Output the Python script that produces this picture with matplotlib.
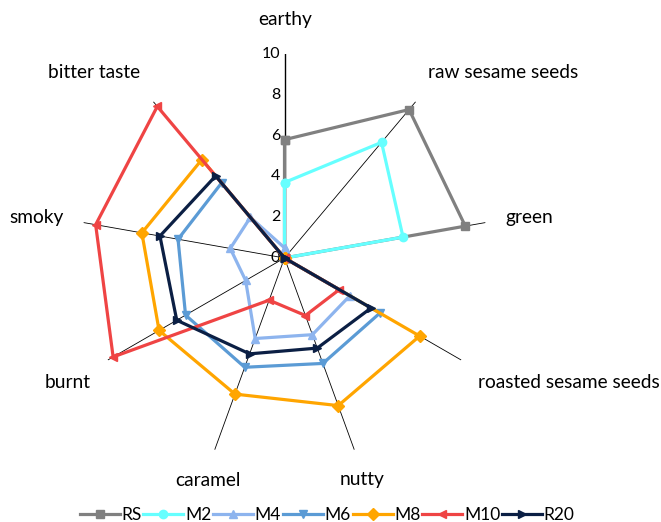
import numpy as np
import matplotlib
matplotlib.use('Agg')
from matplotlib import pyplot as plt

plt.rcParams['font.family'] = ['Lato', 'DejaVu Sans']

# Sensory attributes, clockwise from the top
attributes = ['earthy', 'raw sesame seeds', 'green', 'roasted sesame seeds',
              'nutty', 'caramel', 'burnt', 'smoky', 'bitter taste']

# Panel scores per sample (0-10)
RS = [5.8, 9.5, 9.0, 0.0, 0.0, 0.0, 0.0, 0.0, 0.0]
M2 = [3.7, 7.4, 5.9, 0.0, 0.0, 0.0, 0.0, 0.0, 0.0]
M4 = [0.5, 0.0, 0.0, 3.7, 4.0, 4.2, 2.2, 2.7, 2.6]
M6 = [0.0, 0.0, 0.0, 5.4, 5.5, 5.7, 5.6, 5.3, 4.8]
M8 = [0.0, 0.0, 0.0, 7.65, 7.7, 7.1, 7.1, 7.1, 6.3]
M10 = [0.0, 0.0, 0.0, 3.1, 3.0, 2.2, 9.7, 9.4, 9.7]
R20 = [0.0, 0.0, 0.0, 4.9, 4.7, 5.0, 6.1, 6.2, 5.25]

samples = ['RS', 'M2', 'M4', 'M6', 'M8', 'M10', 'R20']
series = [RS, M2, M4, M6, M8, M10, R20]
colors = ['#808080', '#66FFFF', '#8DB4EE', '#5B9BD5', '#FFA500', '#EF4444', '#0B1F44']
markers = ['s', 'o', '^', 'v', 'D', '<', '>']

r_ticks = [0, 2, 4, 6, 8, 10]

W, H = 661, 522
fig = plt.figure(figsize=(W / 100, H / 100), dpi=100)

# polar axes centred on the spoke origin
cx, cy, rad = 284.5, 258.0, 204.0
ax = fig.add_axes([(cx - rad) / W, 1 - (cy + rad) / H, 2 * rad / W, 2 * rad / H],
                  projection='polar')
ax.set_theta_zero_location('N')
ax.set_theta_direction(-1)
ax.set_ylim(0, 10)
ax.set_xticks([])
ax.set_yticks([])
ax.grid(False)
ax.spines['polar'].set_visible(False)
ax.patch.set_visible(False)

n = len(attributes)
theta = np.arange(n) * 2 * np.pi / n

# spokes
for i, t in enumerate(theta):
    ax.plot([t, t], [0, 10], color='black', lw=1.0 if i == 0 else 0.6, zorder=1)

# value labels on the first spoke
for v in r_ticks:
    ax.annotate(str(v), (0, v), xytext=(-3, 0), textcoords='offset points',
                ha='right', va='center', fontsize=11.5)

for name, vals, c, m in zip(samples, series, colors, markers):
    closed = list(vals) + [vals[0]]
    ax.plot(np.append(theta, theta[0]), closed, color=c, marker=m, lw=2.3,
            markersize=6, label=name, zorder=3, clip_on=False)

# attribute labels around the chart
label_xy = [(285, 20), (503, 73), (529, 218), (569, 382), (362, 480),
            (208, 480), (68, 382), (37, 218), (94, 73)]
for txt, (x, y) in zip(attributes, label_xy):
    fig.text(x / W, 1 - y / H, txt, ha='center', va='center', fontsize=13.8)

fig.legend(loc='center', bbox_to_anchor=(0.495, 1 - 515 / H), ncol=7,
           frameon=False, fontsize=12.5, handlelength=2.3, handletextpad=0.1,
           columnspacing=0.1)

fig.savefig('out.png', dpi=100)
